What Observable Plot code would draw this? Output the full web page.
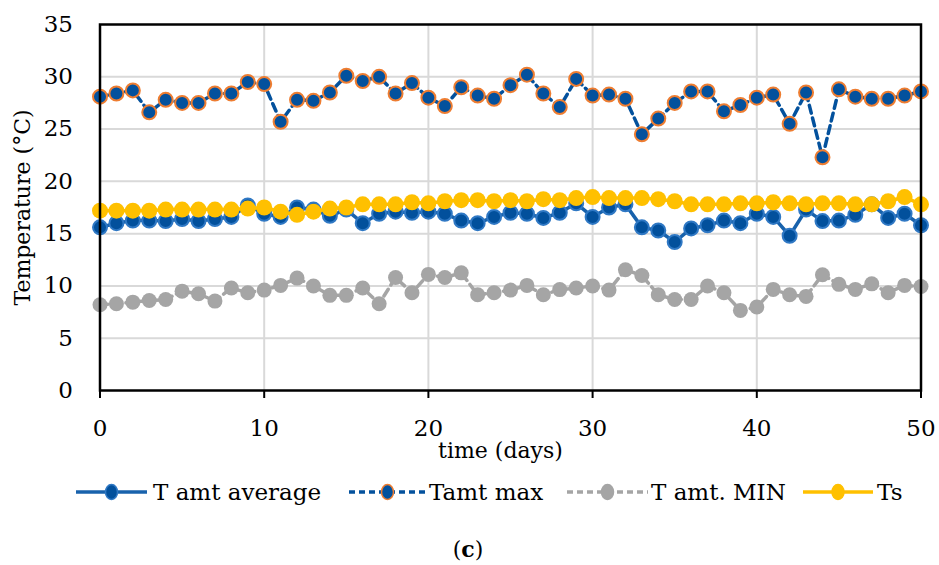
<!DOCTYPE html>
<html>
<head>
<meta charset="utf-8">
<script src="https://cdn.jsdelivr.net/npm/d3@7"></script>
<script src="https://cdn.jsdelivr.net/npm/@observablehq/plot@0.6"></script>
<style>
  html, body { margin: 0; padding: 0; background: #fff; }
  #chart { position: relative; width: 939px; height: 565px; font-family: "DejaVu Serif", serif; }
  #legend { position: absolute; left: 0; top: 470px; }
</style>
</head>
<body>
<div id="chart"></div>
<script>
// ---- data ----
const days = d3.range(0, 51);
const tAvg = [15.6,16.0,16.25,16.25,16.2,16.4,16.2,16.4,16.6,17.7,
              16.9,16.6,17.5,17.3,16.7,17.3,16.0,16.9,17.1,17.0,
              17.1,16.9,16.25,16.0,16.6,17.0,16.9,16.5,17.0,17.9,
              16.6,17.5,17.8,15.6,15.3,14.2,15.5,15.8,16.25,16.0,
              16.9,16.6,14.8,17.3,16.2,16.25,16.8,17.8,16.5,16.9,15.8];
const tMax = [28.1,28.4,28.7,26.6,27.8,27.5,27.5,28.4,28.4,29.5,
              29.3,25.7,27.8,27.7,28.5,30.1,29.6,30.0,28.4,29.4,
              28.0,27.2,29.0,28.2,27.9,29.2,30.2,28.4,27.1,29.8,
              28.2,28.3,27.9,24.5,26.0,27.5,28.6,28.6,26.7,27.3,
              28.0,28.3,25.5,28.5,22.3,28.8,28.1,27.9,27.9,28.2,28.6];
const tMin = [8.2,8.3,8.45,8.6,8.7,9.5,9.25,8.55,9.8,9.35,
              9.6,10.05,10.75,10.0,9.1,9.1,9.8,8.3,10.8,9.35,
              11.1,10.8,11.25,9.15,9.35,9.6,10.05,9.15,9.65,9.8,
              10.0,9.6,11.55,11.0,9.15,8.7,8.7,10.0,9.35,7.66,
              7.98,9.67,9.15,9.0,11.07,10.15,9.67,10.2,9.35,10.05,9.95];
const ts   = [17.2,17.2,17.2,17.2,17.3,17.3,17.3,17.3,17.3,17.4,
              17.5,17.1,16.8,17.1,17.4,17.5,17.8,17.8,17.8,18.0,
              17.9,18.1,18.2,18.2,18.1,18.2,18.1,18.3,18.2,18.4,
              18.5,18.4,18.4,18.4,18.3,18.1,17.8,17.8,17.8,17.9,
              17.9,18.0,17.9,17.8,17.9,17.9,17.8,17.8,18.1,18.5,17.8];
const xTicks = [0, 10, 20, 30, 40, 50];
const yTicks = [0, 5, 10, 15, 20, 25, 30, 35];
const seriesNames = ["T amt average", "Tamt max", "T amt. MIN", "Ts"];
const xTitle = "time (days)";
const yTitle = "Temperature (°C)";

const rows = days.map((d, i) => ({day: d, avg: tAvg[i], max: tMax[i], min: tMin[i], ts: ts[i]}));

const C = {
  avgLine: "#1862ac", avgFill: "#02509c", avgStroke: "#2f78c4",
  maxLine: "#03519d", maxFill: "#03519d", maxStroke: "#ee7d31",
  min: "#a5a5a5", ts: "#ffc000"
};

const plot = Plot.plot({
  width: 939,
  height: 470,
  marginLeft: 99.5,
  marginRight: 18.5,
  marginTop: 24,
  marginBottom: 80,
  style: {fontFamily: "DejaVu Serif, serif", fontSize: "22px", background: "#fff", overflow: "visible"},
  x: {domain: [0, 50]},
  y: {domain: [0, 35]},
  marks: [
    Plot.gridY(yTicks.filter(v => v > 0 && v < 35), {stroke: "#d9d9d9", strokeOpacity: 1, strokeWidth: 2}),
    Plot.gridX(xTicks.filter(v => v > 0 && v < 50), {stroke: "#d9d9d9", strokeOpacity: 1, strokeWidth: 2}),
    Plot.axisY(yTicks, {tickSize: 0, tickPadding: 27, fontSize: 23, label: null, fill: "#000"}),
    Plot.axisX(xTicks, {tickSize: 8, tickPadding: 21, fontSize: 23, label: null, strokeWidth: 2, fill: "#000"}),
    Plot.line(rows, {x: "day", y: "avg", stroke: C.avgLine, strokeWidth: 3.5}),
    Plot.dot(rows, {x: "day", y: "avg", r: 7, fill: C.avgFill, stroke: C.avgStroke, strokeWidth: 2}),
    Plot.line(rows, {x: "day", y: "max", stroke: C.maxLine, strokeWidth: 3.5, strokeDasharray: "8,5"}),
    Plot.dot(rows, {x: "day", y: "max", r: 7, fill: C.maxFill, stroke: C.maxStroke, strokeWidth: 2}),
    Plot.line(rows, {x: "day", y: "min", stroke: C.min, strokeWidth: 3.5, strokeDasharray: "8,5"}),
    Plot.dot(rows, {x: "day", y: "min", r: 7.5, fill: C.min}),
    Plot.line(rows, {x: "day", y: "ts", stroke: C.ts, strokeWidth: 3.5}),
    Plot.dot(rows, {x: "day", y: "ts", r: 8, fill: C.ts}),
    Plot.frame({stroke: "#000", strokeWidth: 2.5}),
    Plot.text([yTitle], {frameAnchor: "left", rotate: -90, dx: -77, textAnchor: "middle", lineAnchor: "middle", fontSize: 22, fill: "#000"}),
    Plot.text([xTitle], {frameAnchor: "bottom", dy: 60, dx: -10, textAnchor: "middle", lineAnchor: "middle", fontSize: 22, fill: "#000"})
  ]
});
document.getElementById("chart").appendChild(plot);

// ---- legend (below the plot SVG) ----
const leg = d3.select("#chart").append("svg")
  .attr("id", "legend").attr("width", 939).attr("height", 95)
  .style("font-family", "DejaVu Serif, serif");
const items = [
  {name: seriesNames[0], x0: 76, x1: 147, line: C.avgLine, dash: null, fill: C.avgFill, stroke: C.avgStroke, tx: 153},
  {name: seriesNames[1], x0: 349, x1: 426, line: C.maxLine, dash: "6,4", fill: C.maxFill, stroke: C.maxStroke, tx: 429},
  {name: seriesNames[2], x0: 567, x1: 648, line: C.min, dash: "6,4", fill: C.min, stroke: C.min, tx: 651},
  {name: seriesNames[3], x0: 803, x1: 873, line: C.ts, dash: null, fill: C.ts, stroke: C.ts, tx: 877}
];
const ly = 22;
items.forEach(it => {
  const g = leg.append("g");
  g.append("line").attr("x1", it.x0).attr("x2", it.x1).attr("y1", ly).attr("y2", ly)
    .attr("stroke", it.line).attr("stroke-width", 3.5).attr("stroke-dasharray", it.dash);
  g.append("ellipse").attr("cx", (it.x0 + it.x1) / 2).attr("cy", ly).attr("rx", 6).attr("ry", 7.5)
    .attr("fill", it.fill).attr("stroke", it.stroke).attr("stroke-width", 1.5);
  g.append("text").attr("x", it.tx).attr("y", ly).attr("dy", "0.35em")
    .attr("font-size", 23).attr("fill", "#000").text(it.name);
});
const cap = leg.append("text").attr("x", 468).attr("y", 79).attr("dy", "0.35em")
  .attr("text-anchor", "middle").attr("font-size", 22).attr("fill", "#000");
cap.append("tspan").text("(");
cap.append("tspan").attr("font-weight", "bold").text("c");
cap.append("tspan").text(")");
</script>
</body>
</html>
